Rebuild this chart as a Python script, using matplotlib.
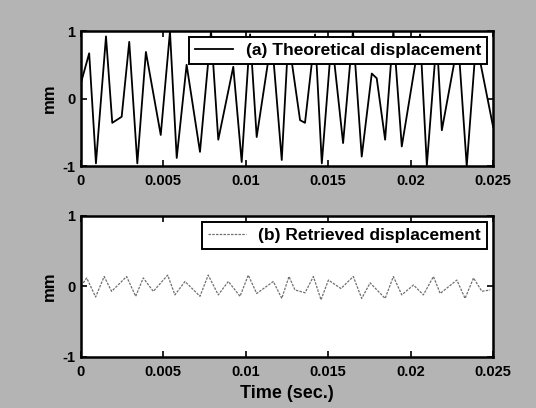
import numpy as np
import matplotlib
matplotlib.use("Agg")
import matplotlib.pyplot as plt
from matplotlib.patches import Rectangle

plt.rcParams['font.family'] = ['Liberation Sans', 'DejaVu Sans']
plt.rcParams['font.weight'] = 'bold'
plt.rcParams['axes.unicode_minus'] = False

# (a) theoretical displacement, vertices (peaks under the legend estimated)
t_theo = [0.0, 0.00050, 0.00091, 0.00152, 0.00190, 0.00247, 0.00293, 0.00342,
          0.00394, 0.00484, 0.00540, 0.00581, 0.00641, 0.00722, 0.00789, 0.00833,
          0.00924, 0.00975, 0.01026, 0.01066, 0.01157, 0.01218, 0.01258, 0.01329,
          0.01359, 0.01420, 0.01461, 0.01521, 0.01590, 0.01650, 0.01703, 0.01764,
          0.01794, 0.01845, 0.01895, 0.01946, 0.02057, 0.02098, 0.02158, 0.02189,
          0.02288, 0.02340, 0.02397, 0.02500]
d_theo = [0.23, 0.67, -0.96, 0.92, -0.36, -0.27, 0.84, -0.96,
          0.69, -0.54, 0.99, -0.88, 0.50, -0.79, 1.00, -0.61,
          0.47, -0.94, 0.95, -0.57, 0.90, -0.91, 0.90, -0.32,
          -0.36, 0.95, -0.96, 0.90, -0.66, 1.00, -0.86, 0.37,
          0.30, -0.61, 1.00, -0.71, 0.95, -0.99, 0.90, -0.47,
          0.85, -1.00, 0.85, -0.42]

# (b) retrieved displacement
t_retr = [0.00014, 0.00035, 0.00089, 0.00141, 0.00186, 0.00277, 0.00332, 0.00378,
          0.00439, 0.00526, 0.00570, 0.00631, 0.00722, 0.00772, 0.00833, 0.00894,
          0.00965, 0.01015, 0.01066, 0.01167, 0.01218, 0.01262, 0.01298, 0.01359,
          0.01410, 0.01456, 0.01501, 0.01577, 0.01652, 0.01703, 0.01754, 0.01845,
          0.01895, 0.01946, 0.02017, 0.02077, 0.02138, 0.02179, 0.02280, 0.02330,
          0.02381, 0.02432, 0.02482]
d_retr = [0.05, 0.12, -0.15, 0.14, -0.07, 0.14, -0.14, 0.12,
          -0.07, 0.16, -0.12, 0.07, -0.14, 0.16, -0.12, 0.07,
          -0.14, 0.16, -0.10, 0.07, -0.17, 0.14, -0.05, -0.09,
          0.14, -0.19, 0.09, -0.03, 0.14, -0.17, 0.05, -0.17,
          0.14, -0.12, 0.02, -0.12, 0.14, -0.10, 0.09, -0.17,
          0.12, -0.07, -0.05]

xticks = [0, 0.005, 0.01, 0.015, 0.02, 0.025]
xticklabels = ['0', '0.005', '0.01', '0.015', '0.02', '0.025']
yticks = [-1, 0, 1]

bg = '#b4b4b4'
fig = plt.figure(figsize=(5.36, 4.08), dpi=100, facecolor=bg)
# scanned grey page behind the plots
fig.add_artist(Rectangle((0, 0), 1, 1, transform=fig.transFigure,
                         facecolor=bg, edgecolor='none', zorder=-10))

ax1 = fig.add_axes([0.151, 0.593, 0.769, 0.331])
ax2 = fig.add_axes([0.151, 0.125, 0.769, 0.346])

ax1.plot(t_theo, d_theo, color='black', lw=1.3, label='(a) Theoretical displacement')
ax2.plot(t_retr, d_retr, color='#707070', lw=0.9, ls=(0, (2, 1)),
         label='(b) Retrieved displacement')

for ax in (ax1, ax2):
    ax.set_facecolor('white')
    ax.set_xlim(0, 0.025)
    ax.set_ylim(-1, 1)
    ax.set_xticks(xticks)
    ax.set_xticklabels(xticklabels)
    ax.set_yticks(yticks)
    ax.tick_params(direction='in', top=True, right=True, length=4, width=1.2,
                   labelsize=10.5)
    ax.tick_params(axis='x', pad=6)
    ax.tick_params(axis='y', pad=4)
    for s in ax.spines.values():
        s.set_linewidth(1.8)
    ax.set_ylabel('mm', fontsize=12, fontweight='bold', labelpad=4)
    leg = ax.legend(loc='upper right', fontsize=12.5, fancybox=False, framealpha=1,
                    edgecolor='black', borderaxespad=0.35, handlelength=2.2,
                    borderpad=0.35, handletextpad=0.7)
    leg.get_frame().set_linewidth(1.4)
    for txt in leg.get_texts():
        txt.set_fontweight('bold')

ax2.set_xlabel('Time (sec.)', fontsize=13, fontweight='bold', labelpad=4)

fig.savefig('out.png', dpi=100, facecolor=bg)
